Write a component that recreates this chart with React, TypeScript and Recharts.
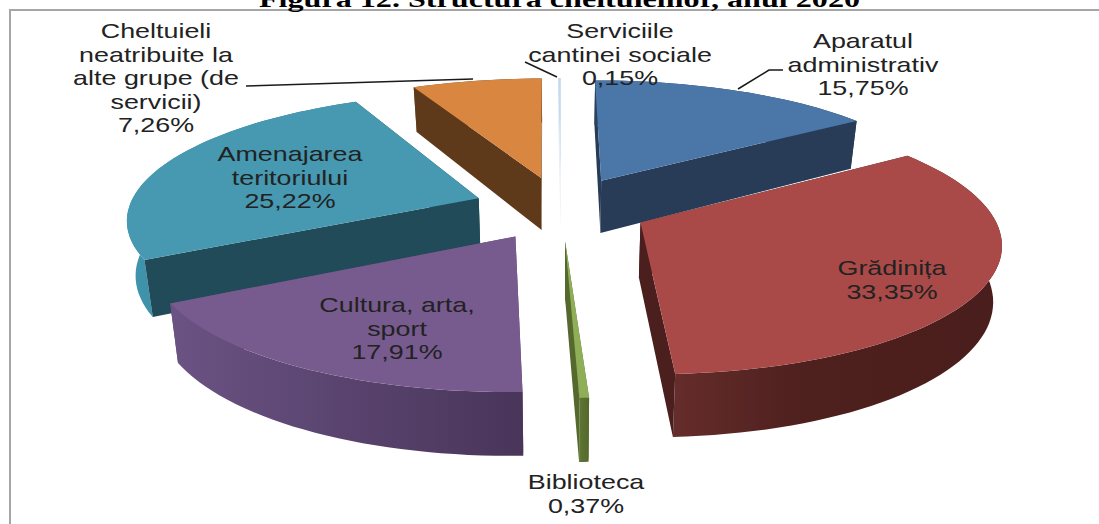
import { Pie, PieChart } from "recharts";

// order starts at the back-left slice so nearer slices paint over it
const categories = [
  "Amenajarea\nteritoriului",
  "Cheltuieli\nneatribuite la\nalte grupe (de\nservicii)",
  "Serviciile\ncantinei sociale",
  "Aparatul\nadministrativ",
  "Grădinița",
  "Biblioteca",
  "Cultura, arta,\nsport",
];
const shares = [25.22, 7.26, 0.15, 15.75, 33.35, 0.37, 17.91];

const topColors = ["#4699b0", "#d98640", "#c6d9f1", "#4a76a8", "#aa4a48", "#8fae58", "#775b8f"];
const wallColors = ["#214b59", "#5e3a1b", "#e8eef7", "#283c58", "#4a1f1d", "#55692e", "#5a4570"];
const rimLeft = ["#3f93aa", "#7a4c22", "#e8eef7", "#2c4262", "#652d2b", "#5f7834", "#6a5282"];
const rimMid = ["#3a8aa0", "#6a4220", "#e8eef7", "#2a3f5c", "#4e201e", "#5a7030", "#5c4672"];
const rimRight = ["#2b6a7c", "#5e3a1b", "#e8eef7", "#283c58", "#4a1e1c", "#55692e", "#49355a"];

// label centre x and first baseline, same order as categories
const labelX = [290, 156, 620, 863, 892, 586, 397];
const labelY = [161, 38, 38, 48, 275, 489, 312];
const leaders: Record<number, string> = {
  1: "246,86 473,79",
  2: "525,62 557,77",
  3: "738,89 769,70 783,70",
};

const W = 1099;
const H = 524;
const CX = 561;
const CY = 208;
const RX = 350;
const RY = 128;
const PERSPECTIVE = 0.15;
const EXPLODE = 0.25;
const DEPTH = 54;
const LINE_H = 23.6;
const STRETCH = 1.28;

const data = categories.map((name, i) => ({ name, value: shares[i] }));

// the chart starts at 12 o'clock on "Aparatul", so teal starts 67.38% round
const startAngle = 90 - (67.38 / 100) * 360;

const rad = (d: number) => (d * Math.PI) / 180;

const project = (X: number, Y: number, low: boolean) => {
  const s = 1 + PERSPECTIVE * Y;
  const k = low ? 0.98 : 1;
  return [CX + RX * X * s * k, CY + RY * Y * s + (low ? DEPTH * s : 0)];
};
const fmt = (pts: number[][]) => "M" + pts.map((p) => p[0].toFixed(1) + " " + p[1].toFixed(1)).join("L") + "Z";

const Slice3D = (props: any) => {
  const { startAngle: a0, endAngle: a1, index } = props;
  const mid = rad((a0 + a1) / 2);
  const ox = EXPLODE * Math.cos(mid);
  const oy = -EXPLODE * Math.sin(mid);

  const rim: [number, number][] = [];
  const steps = Math.max(2, Math.ceil(Math.abs(a1 - a0) / 2));
  for (let i = 0; i <= steps; i++) {
    const a = rad(a0 + ((a1 - a0) * i) / steps);
    rim.push([ox + Math.cos(a), oy - Math.sin(a)]);
  }
  const upper = rim.map(([x, y]) => project(x, y, false));
  const lower = rim.map(([x, y]) => project(x, y, true));
  const apex = project(ox, oy, false);
  const apexLow = project(ox, oy, true);
  const xs = lower.map((p) => p[0]);
  const gid = "rim" + index;

  const startWall = fmt([apex, upper[0], lower[0], apexLow]);
  const endWall = fmt([apex, upper[upper.length - 1], lower[lower.length - 1], apexLow]);
  // a cut face only shows when it turns towards the viewer
  const startFront = Math.cos(rad(a0)) < 0;
  const endFront = Math.cos(rad(a1)) > 0;
  const wall = wallColors[index];

  return (
    <g>
      <defs>
        <linearGradient id={gid} gradientUnits="userSpaceOnUse" x1={Math.min(...xs)} x2={Math.max(...xs)} y1={0} y2={0}>
          <stop offset="0" stopColor={rimLeft[index]} />
          <stop offset="0.4" stopColor={rimMid[index]} />
          <stop offset="1" stopColor={rimRight[index]} />
        </linearGradient>
      </defs>
      {!startFront && <path d={startWall} fill={wall} />}
      {!endFront && <path d={endWall} fill={wall} />}
      <path d={fmt([...upper, ...[...lower].reverse()])} fill={`url(#${gid})`} />
      {startFront && <path d={startWall} fill={wall} />}
      {endFront && <path d={endWall} fill={wall} />}
      <path d={fmt([apex, ...upper])} fill={topColors[index]} />
    </g>
  );
};

const SliceLabel = (props: any) => {
  const { index } = props;
  const rows = [...categories[index].split("\n"), shares[index].toFixed(2).replace(".", ",") + "%"];
  return (
    <g>
      {leaders[index] && <polyline points={leaders[index]} fill="none" stroke="#1a1a1a" strokeWidth={1.5} />}
      {rows.map((row, i) => (
        <text
          key={i}
          transform={`translate(${labelX[index]} ${labelY[index] + i * LINE_H}) scale(${STRETCH} 1)`}
          textAnchor="middle"
          fontFamily="Liberation Sans"
          fontSize={21}
          fill="#222222"
        >
          {row}
        </text>
      ))}
    </g>
  );
};

export default function App() {
  return (
    <div style={{ position: "absolute", left: 0, top: 0, width: W, height: H, overflow: "hidden", background: "#fff" }}>
      <div style={{ position: "absolute", left: 9, top: 9, width: W, height: H, borderTop: "2px solid #a6a6a6", borderLeft: "2px solid #a6a6a6" }} />
      <svg width={W} height={20} style={{ position: "absolute", left: 0, top: 0 }}>
        <text x={259} y={7} fontFamily="Liberation Serif" fontWeight="bold" fontSize={24} fill="#000" textLength={601} lengthAdjust="spacingAndGlyphs">
          Figura 12. Structura cheltuielilor, anul 2020
        </text>
      </svg>
      <div style={{ position: "absolute", left: 0, top: 0 }}>
        <PieChart width={W} height={H} margin={{ top: 0, right: 0, bottom: 0, left: 0 }}>
          <Pie
            data={data}
            dataKey="value"
            nameKey="name"
            cx={CX}
            cy={CY}
            outerRadius={RY}
            startAngle={startAngle}
            endAngle={startAngle - 360}
            paddingAngle={0}
            stroke="none"
            isAnimationActive={false}
            shape={Slice3D}
            label={SliceLabel}
            labelLine={false}
          />
        </PieChart>
      </div>
    </div>
  );
}
